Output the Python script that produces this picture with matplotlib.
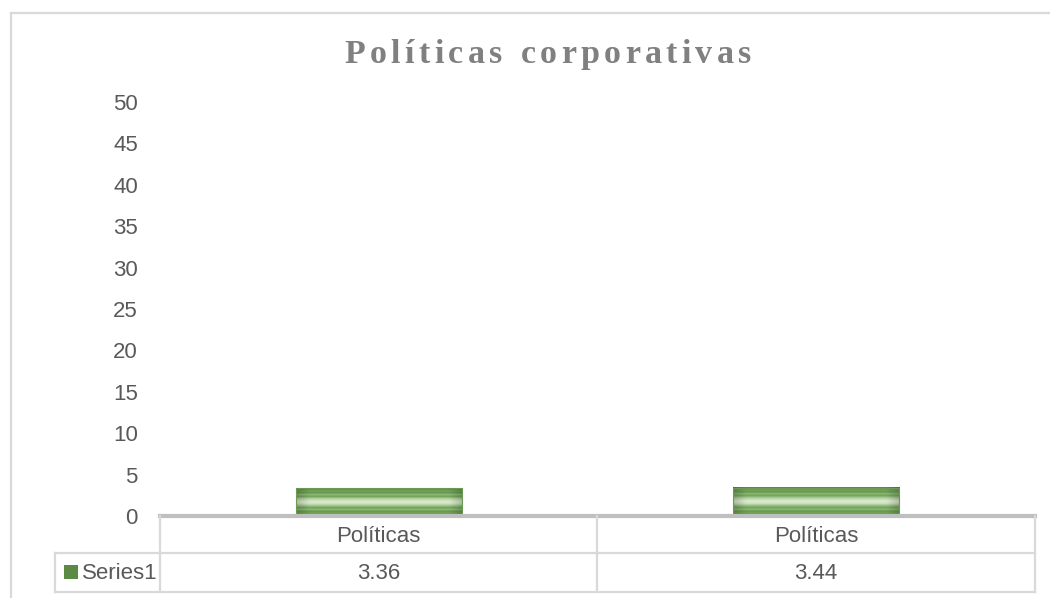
import numpy as np
import matplotlib
matplotlib.use("Agg")
import matplotlib.pyplot as plt
from matplotlib.lines import Line2D
from matplotlib.patches import Rectangle

categories = ["Políticas", "Políticas"]
series_name = "Series1"
values = [3.36, 3.44]
y_ticks = [0, 5, 10, 15, 20, 25, 30, 35, 40, 45, 50]
title = "Políticas corporativas"

W, H = 1050, 598
fig = plt.figure(figsize=(W / 100, H / 100), dpi=100)
fig.patch.set_facecolor("white")

def fx(px):
    return px / W

def fy(py):
    return 1 - py / H

label_font = dict(fontsize=16, color="#595959", family="Liberation Sans")

# plot area
ax_left, ax_right, ax_top, ax_bottom = 160, 1035, 102, 516
ax = fig.add_axes([fx(ax_left), fy(ax_bottom), fx(ax_right - ax_left), fy(ax_top) - fy(ax_bottom)])
ax.set_xlim(0, len(categories))
ax.set_ylim(0, 50)
ax.set_yticks(y_ticks)
ax.set_yticklabels([str(t) for t in y_ticks], **label_font)
ax.tick_params(axis="y", length=0, pad=16)
ax.tick_params(axis="x", length=0, labelbottom=False)
for s in ax.spines.values():
    s.set_visible(False)
ax.axhline(0, color="#bfbfbf", lw=3, clip_on=False, zorder=5)

# striped green fill for bars
stripe = np.array([
    [0.36, 0.55, 0.27], [0.45, 0.64, 0.35], [0.40, 0.60, 0.31], [0.55, 0.72, 0.45],
    [0.45, 0.64, 0.35], [0.66, 0.80, 0.58], [0.80, 0.88, 0.74], [0.86, 0.92, 0.82],
    [0.80, 0.88, 0.74], [0.62, 0.77, 0.53], [0.45, 0.64, 0.35], [0.55, 0.72, 0.45],
    [0.40, 0.60, 0.31], [0.45, 0.64, 0.35], [0.36, 0.55, 0.27],
])
nx = 60
xs = np.linspace(-1, 1, nx)
shade = 1 - 0.18 * np.clip((np.abs(xs) - 0.85) / 0.15, 0, 1)
img = stripe[:, None, :] * shade[None, :, None]

bar_w = 0.38
for i, v in enumerate(values):
    x0 = i + 0.5 - bar_w / 2
    ax.imshow(img, extent=[x0, x0 + bar_w, 0, v], aspect="auto",
              interpolation="bilinear", zorder=3)
    ax.add_patch(Rectangle((x0, 0), bar_w, v, fill=False, ec="#6b9a55", lw=0.8, zorder=4))
ax.set_xlim(0, len(categories))
ax.set_ylim(0, 50)

# data table under the axis
grid_c = "#d9d9d9"
row1_top, row_mid, row_bot = 516, 553, 592
col_x = [160, 597, 1035]
leg_left = 55

def hline(x0, x1, y):
    fig.add_artist(Line2D([fx(x0), fx(x1)], [fy(y), fy(y)], color=grid_c, lw=1.6))

def vline(x, y0, y1):
    fig.add_artist(Line2D([fx(x), fx(x)], [fy(y0), fy(y1)], color=grid_c, lw=1.6))

hline(leg_left, col_x[-1], row_mid)
hline(leg_left, col_x[-1], row_bot)
for x in col_x:
    vline(x, row1_top, row_bot)
vline(leg_left, row_mid, row_bot)

for i, (c, v) in enumerate(zip(categories, values)):
    cx = (col_x[i] + col_x[i + 1]) / 2
    fig.text(fx(cx), fy((row1_top + row_mid) / 2 + 2), c, ha="center", va="center", **label_font)
    fig.text(fx(cx), fy((row_mid + row_bot) / 2 + 1), f"{v:.2f}", ha="center", va="center",
             **label_font)

fig.add_artist(Rectangle((fx(64), fy(579)), fx(14), fy(565) - fy(579),
                         facecolor="#5b8a44", edgecolor="none"))
fig.text(fx(82), fy((row_mid + row_bot) / 2 + 1), series_name, ha="left", va="center",
         **label_font)

# outer chart border
fig.add_artist(Line2D([fx(11), fx(11)], [fy(13), 0], color="#d9d9d9", lw=1.6))
fig.add_artist(Line2D([fx(11), 1], [fy(13), fy(13)], color="#d9d9d9", lw=1.6))

# letter-spaced title
fig.canvas.draw()
renderer = fig.canvas.get_renderer()
tprops = dict(fontsize=24.5, fontweight="bold", color="#808080", family="Liberation Serif")
widths = []
for ch in title:
    t = fig.text(0, 0, ch if ch != " " else "i", **tprops)
    widths.append(t.get_window_extent(renderer).width)
    t.remove()
target_w = 407
spacing = (target_w - sum(widths)) / (len(title) - 1)
x = 548 - target_w / 2
for ch, w in zip(title, widths):
    if ch != " ":
        fig.text(fx(x), fy(63), ch, ha="left", va="baseline", **tprops)
    x += w + spacing

fig.savefig("out.png", dpi=100)
